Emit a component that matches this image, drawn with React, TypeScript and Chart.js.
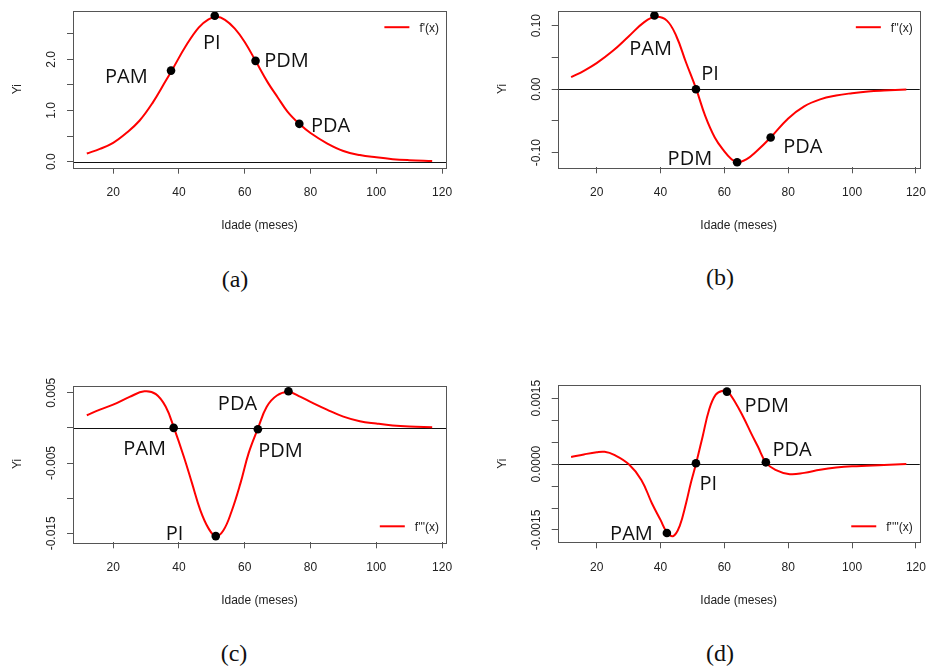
import React, { useEffect, useRef } from 'react';
import { Chart, registerables } from 'chart.js';
Chart.register(...registerables);

// ---------- data ----------
const X_TICKS = [20, 40, 60, 80, 100, 120];
const POINT_NAMES = ['PAM', 'PI', 'PDM', 'PDA'];

// (a) f'(x)
const AGE_A = [12, 16, 20, 24, 28, 32, 36, 38, 42, 46, 49, 51.5, 54, 57, 60, 63.3, 67, 70, 73, 76.6, 80, 85, 90, 95, 100, 105, 110, 117];
const F1 = [0.16, 0.25, 0.37, 0.56, 0.8, 1.15, 1.58, 1.8, 2.25, 2.62, 2.78, 2.83, 2.77, 2.6, 2.34, 1.97, 1.55, 1.26, 0.98, 0.74, 0.56, 0.36, 0.21, 0.13, 0.085, 0.05, 0.03, 0.012];
const PTS_A_X = [37.6, 50.9, 63.3, 76.6];
const PTS_A_Y = [1.78, 2.85, 1.97, 0.74];
const LBL_A_X = [24.0, 50.0, 72.7, 86.1];
const LBL_A_Y = [1.668, 2.35, 1.98, 0.727];
const Y_TICKS_A = [0, 0.5, 1, 1.5, 2, 2.5];
const Y_LABELS_A = ['0.0', '', '1.0', '', '2.0', ''];

// (b) f''(x)
const AGE_B = [12, 16, 20, 25, 30, 35, 38.5, 42, 45, 48, 51.2, 54, 57, 60, 62, 64, 67, 70, 74.5, 80, 85, 90, 95, 100, 105, 110, 117];
const F2 = [0.019, 0.029, 0.041, 0.06, 0.083, 0.106, 0.114, 0.108, 0.083, 0.042, 0, -0.042, -0.076, -0.098, -0.109, -0.115, -0.11, -0.098, -0.076, -0.046, -0.027, -0.016, -0.01, -0.0063, -0.0035, -0.002, -0.0005];
const PTS_B_X = [38.1, 51.1, 64.0, 74.5];
const PTS_B_Y = [0.116, 0, -0.115, -0.076];
const LBL_B_X = [36.9, 55.5, 49.2, 84.6];
const LBL_B_Y = [0.0658, 0.026, -0.108, -0.089];
const Y_TICKS_B = [-0.1, -0.05, 0, 0.05, 0.1];
const Y_LABELS_B = ['-0.10', '', '0.00', '', '0.10'];

// (c) f'''(x)
const AGE_C = [12, 16, 20, 25, 29.5, 33, 36, 38.5, 41.5, 44, 46.5, 49, 51.2, 53.5, 56, 58.7, 61.2, 64, 66.7, 69.8, 73.3, 77, 80, 85, 90, 95, 100, 105, 110, 117];
const F3 = [0.0018, 0.0026, 0.0033, 0.0044, 0.0052, 0.0048, 0.003, 0, -0.0041, -0.0079, -0.0117, -0.0143, -0.0154, -0.0146, -0.0119, -0.0079, -0.0036, -0.0001, 0.003, 0.0046, 0.0051, 0.0044, 0.0037, 0.0026, 0.0016, 0.00095, 0.00062, 0.00035, 0.0002, 0.0001];
const PTS_C_X = [38.4, 51.2, 64.0, 73.3];
const PTS_C_Y = [0, -0.0154, -0.0002, 0.0052];
const LBL_C_X = [29.6, 38.7, 70.9, 57.8];
const LBL_C_Y = [-0.00282, -0.01494, -0.00313, 0.00356];
const Y_TICKS_C = [-0.015, -0.01, -0.005, 0, 0.005];
const Y_LABELS_C = ['-0.015', '', '-0.005', '', '0.005'];

// (d) f''''(x)
const AGE_D = [12, 16, 20, 22.5, 25.5, 30, 34, 37.3, 40, 42, 44, 46, 48, 49.5, 51.1, 53.2, 55.2, 57.3, 59.5, 61, 63.3, 66, 68.4, 70.5, 73, 76, 80.5, 85, 90, 95, 100, 110, 117];
const F4 = [0.00016, 0.00022, 0.00027, 0.00028, 0.00021, 0, -0.00036, -0.00089, -0.00127, -0.00155, -0.00164, -0.00141, -0.00089, -0.00043, 0, 0.00063, 0.00123, 0.00158, 0.00167, 0.00165, 0.00142, 0.00106, 0.0007, 0.0004, 0.00004, -0.00013, -0.00023, -0.0002, -0.00013, -0.00008, -0.00005, -0.00002, 0];
const PTS_D_X = [42.0, 51.1, 60.8, 73.0];
const PTS_D_Y = [-0.00157, 0.00002, 0.00165, 0.00004];
const LBL_D_X = [30.9, 55.0, 73.3, 81.2];
const LBL_D_Y = [-0.001568, -0.00042, 0.001352, 0.000336];
const Y_TICKS_D = [-0.0015, -0.001, -0.0005, 0, 0.0005, 0.001, 0.0015];
const Y_LABELS_D = ['-0.0015', '', '', '0.0000', '', '', '0.0015'];

// ---------- layout ----------
type Panel = {
  cv: { left: number; top: number; w: number; h: number };
  area: { l: number; t: number; r: number; b: number };
  xs: number[]; ys: number[];
  px: number[]; py: number[];
  lx: number[]; ly: number[];
  yMin: number; yMax: number;
  yTicks: number[]; yLabels: string[];
  legend: string; legendPos: 'top' | 'bottom';
};

const PANELS: Panel[] = [
  { cv: { left: 0, top: 0, w: 469, h: 250 }, area: { l: 73, t: 10.7, r: 446, b: 167.7 },
    xs: AGE_A, ys: F1, px: PTS_A_X, py: PTS_A_Y, lx: LBL_A_X, ly: LBL_A_Y,
    yMin: -0.117, yMax: 2.95, yTicks: Y_TICKS_A, yLabels: Y_LABELS_A, legend: "f'(x)", legendPos: 'top' },
  { cv: { left: 469, top: 0, w: 469, h: 250 }, area: { l: 557.7, t: 10.7, r: 931, b: 167.3 },
    xs: AGE_B, ys: F2, px: PTS_B_X, py: PTS_B_Y, lx: LBL_B_X, ly: LBL_B_Y,
    yMin: -0.123, yMax: 0.1236, yTicks: Y_TICKS_B, yLabels: Y_LABELS_B, legend: "f''(x)", legendPos: 'top' },
  { cv: { left: 0, top: 372, w: 469, h: 250 }, area: { l: 73, t: 385.7, r: 446, b: 542.3 },
    xs: AGE_C, ys: F3, px: PTS_C_X, py: PTS_C_Y, lx: LBL_C_X, ly: LBL_C_Y,
    yMin: -0.01628, yMax: 0.006, yTicks: Y_TICKS_C, yLabels: Y_LABELS_C, legend: "f'''(x)", legendPos: 'bottom' },
  { cv: { left: 469, top: 372, w: 469, h: 250 }, area: { l: 557.7, t: 385, r: 931, b: 542.3 },
    xs: AGE_D, ys: F4, px: PTS_D_X, py: PTS_D_Y, lx: LBL_D_X, ly: LBL_D_Y,
    yMin: -0.00178, yMax: 0.0018, yTicks: Y_TICKS_D, yLabels: Y_LABELS_D, legend: "f''''(x)", legendPos: 'bottom' },
];

const CAPTIONS = [
  { text: '(a)', x: 235, y: 281 },
  { text: '(b)', x: 720, y: 279 },
  { text: '(c)', x: 234, y: 655 },
  { text: '(d)', x: 720, y: 655 },
];

const SANS = '"Liberation Sans", Arial, sans-serif';
const AXIS_COLOR = '#555';
const TEXT_COLOR = '#222';

function makePlugin(p: Panel) {
  return {
    id: 'rstyle',
    beforeDatasetsDraw(chart: any) {
      const { ctx, chartArea: a, scales } = chart;
      const y0 = Math.round(scales.y.getPixelForValue(0)) + 0.5;
      ctx.save();
      ctx.strokeStyle = '#111';
      ctx.lineWidth = 1;
      ctx.beginPath();
      ctx.moveTo(a.left, y0);
      ctx.lineTo(a.right, y0);
      ctx.stroke();
      ctx.restore();
    },
    afterDraw(chart: any) {
      const { ctx, chartArea: a, scales } = chart;
      const x = scales.x, y = scales.y;
      ctx.save();
      // box
      ctx.strokeStyle = AXIS_COLOR;
      ctx.lineWidth = 1;
      ctx.strokeRect(Math.round(a.left) + 0.5, Math.round(a.top) + 0.5, Math.round(a.right - a.left), Math.round(a.bottom - a.top));
      // y tick labels (rotated, R style)
      ctx.fillStyle = TEXT_COLOR;
      ctx.font = `12px ${SANS}`;
      p.yTicks.forEach((v, i) => {
        const lbl = p.yLabels[i];
        if (!lbl) return;
        const py = y.getPixelForValue(v);
        ctx.save();
        ctx.translate(a.left - 18, py);
        ctx.rotate(-Math.PI / 2);
        ctx.textAlign = 'center';
        ctx.textBaseline = 'alphabetic';
        ctx.fillText(lbl, 0, 0);
        ctx.restore();
      });
      // axis titles
      ctx.textAlign = 'center';
      ctx.textBaseline = 'middle';
      ctx.fillText('Idade (meses)', (a.left + a.right) / 2, a.bottom + 58);
      ctx.save();
      ctx.translate(a.left - 55.5, (a.top + a.bottom) / 2);
      ctx.rotate(-Math.PI / 2);
      ctx.fillText('Yi', 0, 0);
      ctx.restore();
      // legend
      const tw = ctx.measureText(p.legend).width;
      const tr = a.right - 7;
      const ly = p.legendPos === 'top' ? a.top + 16.5 : a.bottom - 16;
      ctx.textAlign = 'right';
      ctx.fillText(p.legend, tr, ly + 1);
      ctx.strokeStyle = '#ff0000';
      ctx.lineWidth = 2;
      ctx.beginPath();
      ctx.moveTo(tr - tw - 35, ly);
      ctx.lineTo(tr - tw - 10, ly);
      ctx.stroke();
      // point annotations
      ctx.fillStyle = '#111';
      ctx.font = `20px "Open Sans", "Noto Sans", sans-serif`;
      ctx.textAlign = 'center';
      ctx.textBaseline = 'alphabetic';
      POINT_NAMES.forEach((name, i) => {
        const cx = x.getPixelForValue(p.lx[i]);
        const cy = y.getPixelForValue(p.ly[i]);
        ctx.fillText(name, cx, cy + 7.1);
      });
      ctx.restore();
    },
  };
}

function PanelChart({ p }: { p: Panel }) {
  const ref = useRef<HTMLCanvasElement | null>(null);
  useEffect(() => {
    if (!ref.current) return;
    const padTop = p.area.t - p.cv.top;
    const padRight = p.cv.left + p.cv.w - p.area.r;
    const yWidth = p.area.l - p.cv.left;
    const xHeight = p.cv.top + p.cv.h - p.area.b;
    const chart = new Chart(ref.current, {
      type: 'line',
      data: {
        datasets: [
          {
            label: 'pontos',
            data: p.px.map((v, i) => ({ x: v, y: p.py[i] })),
            showLine: false,
            pointRadius: 4.3,
            pointHoverRadius: 4.3,
            pointBackgroundColor: '#000',
            pointBorderColor: '#000',
            pointBorderWidth: 0,
            clip: false,
          } as any,
          {
            label: p.legend,
            data: p.xs.map((v, i) => ({ x: v, y: p.ys[i] })),
            borderColor: '#ff0000',
            borderWidth: 2,
            pointRadius: 0,
            fill: false,
            tension: 0.4,
          } as any,
        ],
      },
      options: {
        animation: false,
        responsive: false,
        events: [],
        layout: { autoPadding: false, padding: { top: padTop, right: padRight, left: 0, bottom: 0 } } as any,
        plugins: { legend: { display: false }, tooltip: { enabled: false } },
        scales: {
          x: {
            type: 'linear',
            min: 7.8,
            max: 121.2,
            afterBuildTicks: (s: any) => { s.ticks = X_TICKS.map((v) => ({ value: v })); },
            afterFit: (s: any) => { s.height = xHeight; },
            grid: { drawOnChartArea: false, drawTicks: true, tickLength: 6, color: AXIS_COLOR },
            border: { display: false },
            ticks: {
              color: TEXT_COLOR,
              padding: 12,
              maxRotation: 0,
              font: { family: SANS, size: 12 },
              callback: (v: any) => String(v),
            },
          },
          y: {
            type: 'linear',
            min: p.yMin,
            max: p.yMax,
            afterBuildTicks: (s: any) => { s.ticks = p.yTicks.map((v) => ({ value: v })); },
            afterFit: (s: any) => { s.width = yWidth; },
            grid: { drawOnChartArea: false, drawTicks: true, tickLength: 6, color: AXIS_COLOR },
            border: { display: false },
            ticks: { display: false },
          },
        },
      },
      plugins: [makePlugin(p)],
    } as any);
    return () => chart.destroy();
  }, [p]);
  return (
    <canvas
      ref={ref}
      width={p.cv.w}
      height={p.cv.h}
      style={{ position: 'absolute', left: p.cv.left, top: p.cv.top, width: p.cv.w, height: p.cv.h }}
    />
  );
}

export default function App() {
  return (
    <div style={{ position: 'absolute', left: 0, top: 0, width: 938, height: 668, background: '#fff', overflow: 'hidden' }}>
      {PANELS.map((p, i) => <PanelChart key={i} p={p} />)}
      {CAPTIONS.map((c) => (
        <div
          key={c.text}
          style={{
            position: 'absolute', left: c.x - 50, width: 100, top: c.y - 15, height: 30, lineHeight: '30px',
            textAlign: 'center', font: '24px "Liberation Serif", "Times New Roman", serif', color: '#111',
          }}
        >
          {c.text}
        </div>
      ))}
    </div>
  );
}
